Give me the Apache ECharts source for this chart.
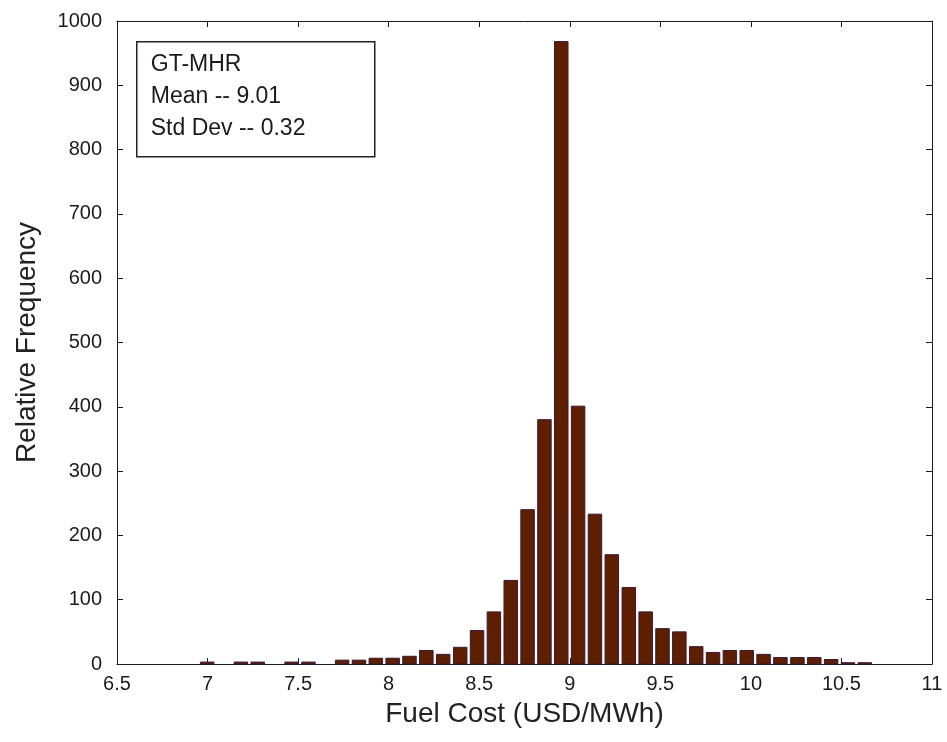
<!DOCTYPE html>
<html>
<head>
<meta charset="utf-8">
<title>GT-MHR Fuel Cost Distribution</title>
<script src="https://cdn.jsdelivr.net/npm/echarts@6/dist/echarts.min.js"></script>
<style>
  html, body { margin: 0; padding: 0; background: #ffffff; }
  #chart { width: 947px; height: 742px; }
</style>
</head>
<body>
<div id="chart"></div>
<script>
// Histogram bin centres (USD/MWh)
const binCenters = [
  6.998, 7.091, 7.184, 7.277, 7.370, 7.464, 7.557, 7.650, 7.743, 7.836,
  7.929, 8.022, 8.115, 8.208, 8.301, 8.395, 8.488, 8.581, 8.674, 8.767,
  8.860, 8.953, 9.046, 9.139, 9.232, 9.326, 9.419, 9.512, 9.605, 9.698,
  9.791, 9.884, 9.977, 10.070, 10.163, 10.257, 10.350, 10.443, 10.536, 10.629
];
// Counts per bin
const binCounts = [
  3, 0, 3, 3, 0, 3, 3, 0, 6, 6,
  9, 9, 12, 21, 15, 26, 52, 81, 130, 240,
  380, 968, 401, 233, 170, 119, 81, 55, 50, 27,
  18, 21, 21, 15, 10, 10, 10, 7, 2, 2
];
// Axis ticks
const xTicks = [6.5, 7, 7.5, 8, 8.5, 9, 9.5, 10, 10.5, 11];
const yTicks = [0, 100, 200, 300, 400, 500, 600, 700, 800, 900, 1000];
// Summary shown in the annotation box
const statLines = ['GT-MHR', 'Mean -- 9.01', 'Std Dev -- 0.32'];

const FONT = '"Liberation Sans", Arial, Helvetica, sans-serif';
const INK = '#1b1b1b';
const binWidth = (binCenters[binCenters.length - 1] - binCenters[0]) / (binCenters.length - 1);
const barFrac = 0.8;

const chart = echarts.init(document.getElementById('chart'), null, { renderer: 'canvas' });

const xMin = xTicks[0], xMax = xTicks[xTicks.length - 1];
const xStep = xTicks[1] - xTicks[0];
const yMin = yTicks[0], yMax = yTicks[yTicks.length - 1];
const yStep = yTicks[1] - yTicks[0];

function baseX(extra) {
  return Object.assign({
    type: 'value', min: xMin, max: xMax, interval: xStep,
    axisLine: { show: true, onZero: false, lineStyle: { color: INK, width: 1 } },
    axisTick: { show: true, inside: true, length: 6, lineStyle: { color: INK, width: 1 } },
    splitLine: { show: false }
  }, extra);
}
function baseY(extra) {
  return Object.assign({
    type: 'value', min: yMin, max: yMax, interval: yStep,
    axisLine: { show: true, onZero: false, lineStyle: { color: INK, width: 1 } },
    axisTick: { show: true, inside: true, length: 6, lineStyle: { color: INK, width: 1 } },
    splitLine: { show: false }
  }, extra);
}

const option = {
  backgroundColor: '#ffffff',
  animation: false,
  grid: { left: 117, right: 15, top: 21, bottom: 78, containLabel: false },
  xAxis: [
    baseX({
      position: 'bottom',
      name: 'Fuel Cost (USD/MWh)',
      nameLocation: 'middle',
      nameGap: 36,
      nameTextStyle: { fontFamily: FONT, fontSize: 28, color: '#222' },
      axisLabel: {
        margin: 10, fontFamily: FONT, fontSize: 20, color: INK,
        formatter: v => String(v)
      }
    }),
    baseX({ position: 'top', axisLabel: { show: false } })
  ],
  yAxis: [
    baseY({
      position: 'left',
      name: 'Relative Frequency',
      nameLocation: 'middle',
      nameGap: 76,
      nameRotate: 90,
      nameTextStyle: { fontFamily: FONT, fontSize: 28, color: '#222' },
      axisLabel: {
        margin: 15, fontFamily: FONT, fontSize: 20, color: INK,
        formatter: v => String(v)
      }
    }),
    baseY({ position: 'right', axisLabel: { show: false } })
  ],
  series: [{
    type: 'custom',
    xAxisIndex: 0,
    yAxisIndex: 0,
    data: binCenters.map((c, i) => [c, binCounts[i]]),
    renderItem: function (params, api) {
      const c = api.value(0);
      const v = api.value(1);
      if (!v) return null;
      const half = binWidth * barFrac / 2;
      const p0 = api.coord([c - half, v]);
      const p1 = api.coord([c + half, 0]);
      return {
        type: 'rect',
        shape: { x: p0[0], y: p0[1], width: p1[0] - p0[0], height: p1[1] - p0[1] },
        style: { fill: '#5e1f00', stroke: '#3a1838', lineWidth: 1 }
      };
    }
  }],
  graphic: [{
    type: 'group',
    left: 136,
    top: 41,
    children: [
      {
        type: 'rect',
        shape: { x: 0, y: 0, width: 238, height: 115 },
        style: { fill: '#ffffff', stroke: '#222222', lineWidth: 1.5 }
      },
      {
        type: 'text',
        x: 14,
        y: 7,
        style: {
          text: statLines.join('\n'),
          fontFamily: FONT,
          fontSize: 23,
          lineHeight: 32,
          fill: INK
        }
      }
    ]
  }]
};

chart.setOption(option);
</script>
</body>
</html>
